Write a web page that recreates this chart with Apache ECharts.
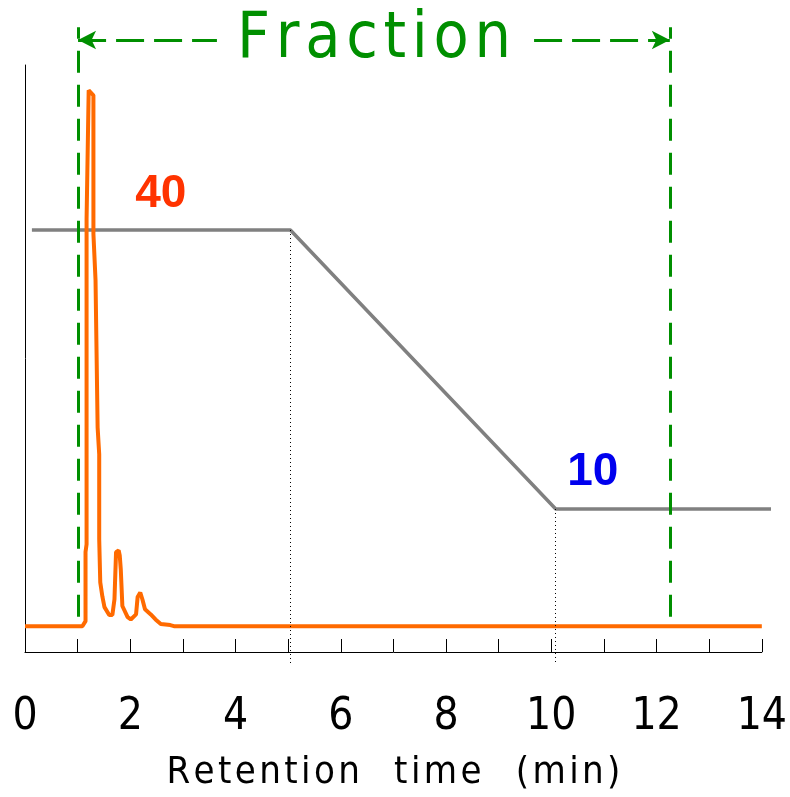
<!DOCTYPE html>
<html>
<head>
<meta charset="utf-8">
<script src="https://cdn.jsdelivr.net/npm/echarts@6/dist/echarts.min.js"></script>
<style>
  html, body { margin: 0; padding: 0; background: #fff; }
  #main { width: 790px; height: 797px; }
</style>
</head>
<body>
<div id="main"></div>
<script>
// chromatogram trace (time in min, signal in arbitrary units)
var signalTime = [0, 1.09, 1.15, 1.15, 1.17, 1.17, 1.21, 1.30, 1.30, 1.34, 1.38, 1.41, 1.41, 1.43, 1.47, 1.51,
  1.60, 1.66, 1.70, 1.73, 1.78, 1.80, 1.82, 1.85, 1.95, 2.01, 2.11, 2.14, 2.19, 2.23, 2.28, 2.39, 2.48, 2.58, 2.76, 2.83, 14];
var signalValue = [0, 0, 0.9, 13.2, 14.6, 72.6, 95.5, 94.6, 69.9, 61.7, 35.4, 30.6, 15.5, 7.8, 5.3, 3.4,
  2.0, 2.0, 4.8, 13.2, 13.5, 12.6, 10.1, 3.6, 1.6, 1.2, 2.1, 5.2, 6.0, 4.8, 3.0, 2.1, 1.2, 0.4, 0.2, 0, 0];

// gradient program (%)
var gradTime = [0.13, 5, 10, 14.3];
var gradValue = [40, 40, 10, 10];
var gradLabels = ['40', '10'];

// fraction window (min)
var fractionStart = 1.0;
var fractionEnd = 12.15;

var green = '#008f00';
var narrow = "'Liberation Sans Narrow', 'DejaVu Sans Condensed', sans-serif";

// widen letter spacing a bit, the original lettering is loose
function spaced(s, gap) {
  return s.split(' ').map(function (w) { return w.split('').join('\u200a'); }).join(gap);
}

var myChart = echarts.init(document.getElementById('main'));

var option = {
  animation: false,
  grid: [
    { left: 25, right: 22, top: 65, bottom: 144 },
    // overlay grid for the gradient and the annotations
    { left: 25, right: 22, top: 20, bottom: 134 }
  ],
  xAxis: [{
    type: 'value',
    gridIndex: 0,
    min: 0,
    max: 14,
    interval: 1,
    name: spaced('Retention time (min)', '\u2002\u2002'),
    nameLocation: 'middle',
    nameGap: 102,
    nameTextStyle: { fontFamily: narrow, fontSize: 38, color: '#000' },
    axisLine: { onZero: false, lineStyle: { color: '#000', width: 1 } },
    axisTick: { inside: true, length: 13, lineStyle: { color: '#000', width: 1 } },
    axisLabel: {
      margin: 44,
      fontFamily: narrow,
      fontSize: 44,
      color: '#000',
      formatter: function (v) { return v % 2 === 0 ? String(v) : ''; }
    },
    splitLine: { show: false }
  }, {
    type: 'value',
    gridIndex: 1,
    min: 0,
    max: 14,
    show: false,
    splitLine: { show: false }
  }],
  yAxis: [{
    type: 'value',
    gridIndex: 0,
    min: -4.6,
    max: 100,
    axisLine: { show: true, onZero: false, lineStyle: { color: '#000', width: 1 } },
    axisTick: { show: false },
    axisLabel: { show: false },
    splitLine: { show: false }
  }, {
    type: 'value',
    gridIndex: 1,
    min: -6.56,
    max: 62.58,
    show: false,
    splitLine: { show: false }
  }],
  series: [{
    name: 'gradient',
    type: 'line',
    xAxisIndex: 1,
    yAxisIndex: 1,
    clip: false,
    showSymbol: false,
    data: gradTime.map(function (t, i) { return [t, gradValue[i]]; }),
    lineStyle: { color: '#808080', width: 3.5 },
    z: 2,
    markLine: {
      silent: true,
      symbol: ['none', 'none'],
      label: { show: false },
      data: [
        [{ coord: [gradTime[1], gradValue[1]], lineStyle: { color: '#000', width: 1, type: [1, 3] } },
         { coord: [gradTime[1], -6.56] }],
        [{ coord: [gradTime[2], gradValue[2]], lineStyle: { color: '#000', width: 1, type: [1, 3] } },
         { coord: [gradTime[2], -6.56] }],
        [{ coord: [fractionStart, -1.6], lineStyle: { color: green, width: 3, type: [22, 12] } },
         { coord: [fractionStart, 61.8] }],
        [{ coord: [fractionEnd, -1.6], lineStyle: { color: green, width: 3, type: [22, 12] } },
         { coord: [fractionEnd, 61.8] }],
        [{ coord: [fractionStart, 60.43], symbol: 'arrow', symbolSize: [14, 18],
           lineStyle: { color: green, width: 3, type: [28, 10] },
           label: {
             show: true, position: 'middle', formatter: spaced('Fraction', ' '),
             distance: 0, verticalAlign: 'middle',
             color: green, fontFamily: narrow, fontSize: 64,
             backgroundColor: '#fff', padding: [0, 20]
           } },
         { coord: [fractionEnd, 60.43], symbol: 'arrow', symbolSize: [14, 18] }]
      ]
    },
    markPoint: {
      silent: true,
      symbol: 'circle',
      symbolSize: 1,
      itemStyle: { color: 'transparent' },
      label: { show: true, position: 'inside', fontWeight: 'bold', fontSize: 46,
               fontFamily: "'Liberation Sans', Arial, sans-serif" },
      data: [
        { coord: [2.56, 43.8], label: { formatter: gradLabels[0], color: '#ff3300' } },
        { coord: [10.7, 13.9], label: { formatter: gradLabels[1], color: '#0000ee' } }
      ]
    }
  }, {
    name: 'signal',
    type: 'line',
    xAxisIndex: 0,
    yAxisIndex: 0,
    showSymbol: false,
    data: signalTime.map(function (t, i) { return [t, signalValue[i]]; }),
    lineStyle: { color: '#ff6a00', width: 4 },
    z: 3
  }]
};

myChart.setOption(option);
</script>
</body>
</html>
